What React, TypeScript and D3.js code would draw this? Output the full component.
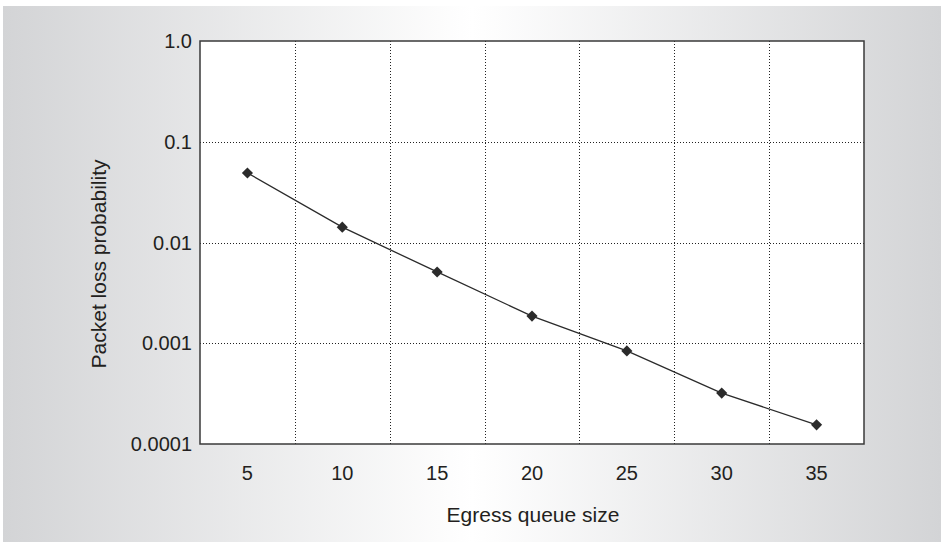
import { useEffect, useRef } from 'react'
import * as d3 from 'd3';

// Data
const queueSizes = [5, 10, 15, 20, 25, 30, 35];
const lossProb = [0.049, 0.0142, 0.0051, 0.00186, 0.00084, 0.00032, 0.000155];
const yTicks = [1, 0.1, 0.01, 0.001, 0.0001];
const yTickLabels = ['1.0', '0.1', '0.01', '0.001', '0.0001'];

const App = () => {

  const canvas = useRef<SVGSVGElement>(null);

  useEffect(() => {

    const svg = d3.select(canvas.current);
    svg.selectAll('*').remove();

    const width = 944, height = 546;
    const marginTop = 41, marginRight = 80, marginBottom = 102, marginLeft = 200;
    const font = 'Liberation Sans, Arial, sans-serif';

    // Background gradient
    const defs = svg.append('defs');
    const grad = defs.append('linearGradient').attr('id', 'bg').attr('x1', 0).attr('x2', 1).attr('y1', 0).attr('y2', 0);
    grad.append('stop').attr('offset', '0%').attr('stop-color', '#d3d4d6');
    grad.append('stop').attr('offset', '50%').attr('stop-color', '#ffffff');
    grad.append('stop').attr('offset', '100%').attr('stop-color', '#d3d4d6');

    svg.append('rect')
      .attr('x', 3).attr('y', 6)
      .attr('width', width - 6).attr('height', height - 10)
      .attr('fill', 'url(#bg)');

    // Scales
    const x = d3.scaleBand<number>()
      .domain(queueSizes)
      .range([marginLeft, width - marginRight]);

    const y = d3.scaleLog()
      .domain([0.0001, 1])
      .range([height - marginBottom, marginTop]);

    // Plot area
    svg.append('rect')
      .attr('x', marginLeft).attr('y', marginTop)
      .attr('width', width - marginRight - marginLeft)
      .attr('height', height - marginBottom - marginTop)
      .attr('fill', '#fff');

    // Grid lines
    const grid = svg.append('g')
      .attr('stroke', '#222')
      .attr('stroke-width', 1)
      .attr('stroke-dasharray', '1,2');

    grid.selectAll('line.v')
      .data(queueSizes.slice(1))
      .join('line')
      .attr('class', 'v')
      .attr('x1', (d) => Math.round(x(d)!) + 0.5)
      .attr('x2', (d) => Math.round(x(d)!) + 0.5)
      .attr('y1', marginTop)
      .attr('y2', height - marginBottom);

    grid.selectAll('line.h')
      .data(yTicks.slice(1, -1))
      .join('line')
      .attr('class', 'h')
      .attr('x1', marginLeft)
      .attr('x2', width - marginRight)
      .attr('y1', (d) => Math.round(y(d)) + 0.5)
      .attr('y2', (d) => Math.round(y(d)) + 0.5);

    // Frame
    svg.append('rect')
      .attr('x', marginLeft).attr('y', marginTop)
      .attr('width', width - marginRight - marginLeft)
      .attr('height', height - marginBottom - marginTop)
      .attr('fill', 'none')
      .attr('stroke', '#3a3a3a')
      .attr('stroke-width', 1.5);

    // Line
    const line = d3.line<number>()
      .x((d, i) => x(queueSizes[i])! + x.bandwidth() / 2)
      .y((d) => y(d));

    svg.append('path')
      .datum(lossProb)
      .attr('d', line)
      .attr('fill', 'none')
      .attr('stroke', '#2b2b2b')
      .attr('stroke-width', 1.3);

    // Diamond markers
    const diamond = d3.symbol().type(d3.symbolSquare).size(62);
    svg.append('g')
      .selectAll('path')
      .data(lossProb)
      .join('path')
      .attr('d', diamond)
      .attr('transform', (d, i) => `translate(${x(queueSizes[i])! + x.bandwidth() / 2},${y(d)}) rotate(45)`)
      .attr('fill', '#2b2b2b');

    // Y tick labels
    svg.append('g')
      .selectAll('text')
      .data(yTicks)
      .join('text')
      .attr('x', marginLeft - 8)
      .attr('y', (d) => y(d))
      .attr('dy', '0.35em')
      .attr('text-anchor', 'end')
      .attr('font-size', 20)
      .text((d, i) => yTickLabels[i]);

    // X tick labels
    svg.append('g')
      .selectAll('text')
      .data(queueSizes)
      .join('text')
      .attr('x', (d) => x(d)! + x.bandwidth() / 2)
      .attr('y', 473)
      .attr('dy', '0.35em')
      .attr('text-anchor', 'middle')
      .attr('font-size', 20)
      .text((d) => d);

    // Axis titles
    svg.append('text')
      .attr('x', 533)
      .attr('y', 515)
      .attr('dy', '0.35em')
      .attr('text-anchor', 'middle')
      .attr('font-size', 21)
      .text('Egress queue size');

    svg.append('text')
      .attr('transform', `translate(99,264) rotate(-90)`)
      .attr('dy', '0.35em')
      .attr('text-anchor', 'middle')
      .attr('font-size', 21)
      .text('Packet loss probability');

    svg.selectAll('text')
      .attr('font-family', font)
      .attr('fill', '#231f20');

  }, []);

  return (
    <svg ref={canvas} width={944} height={546}
      style={{ position: 'absolute', left: 0, top: 0, display: 'block' }} />
  );

}

export default App;
